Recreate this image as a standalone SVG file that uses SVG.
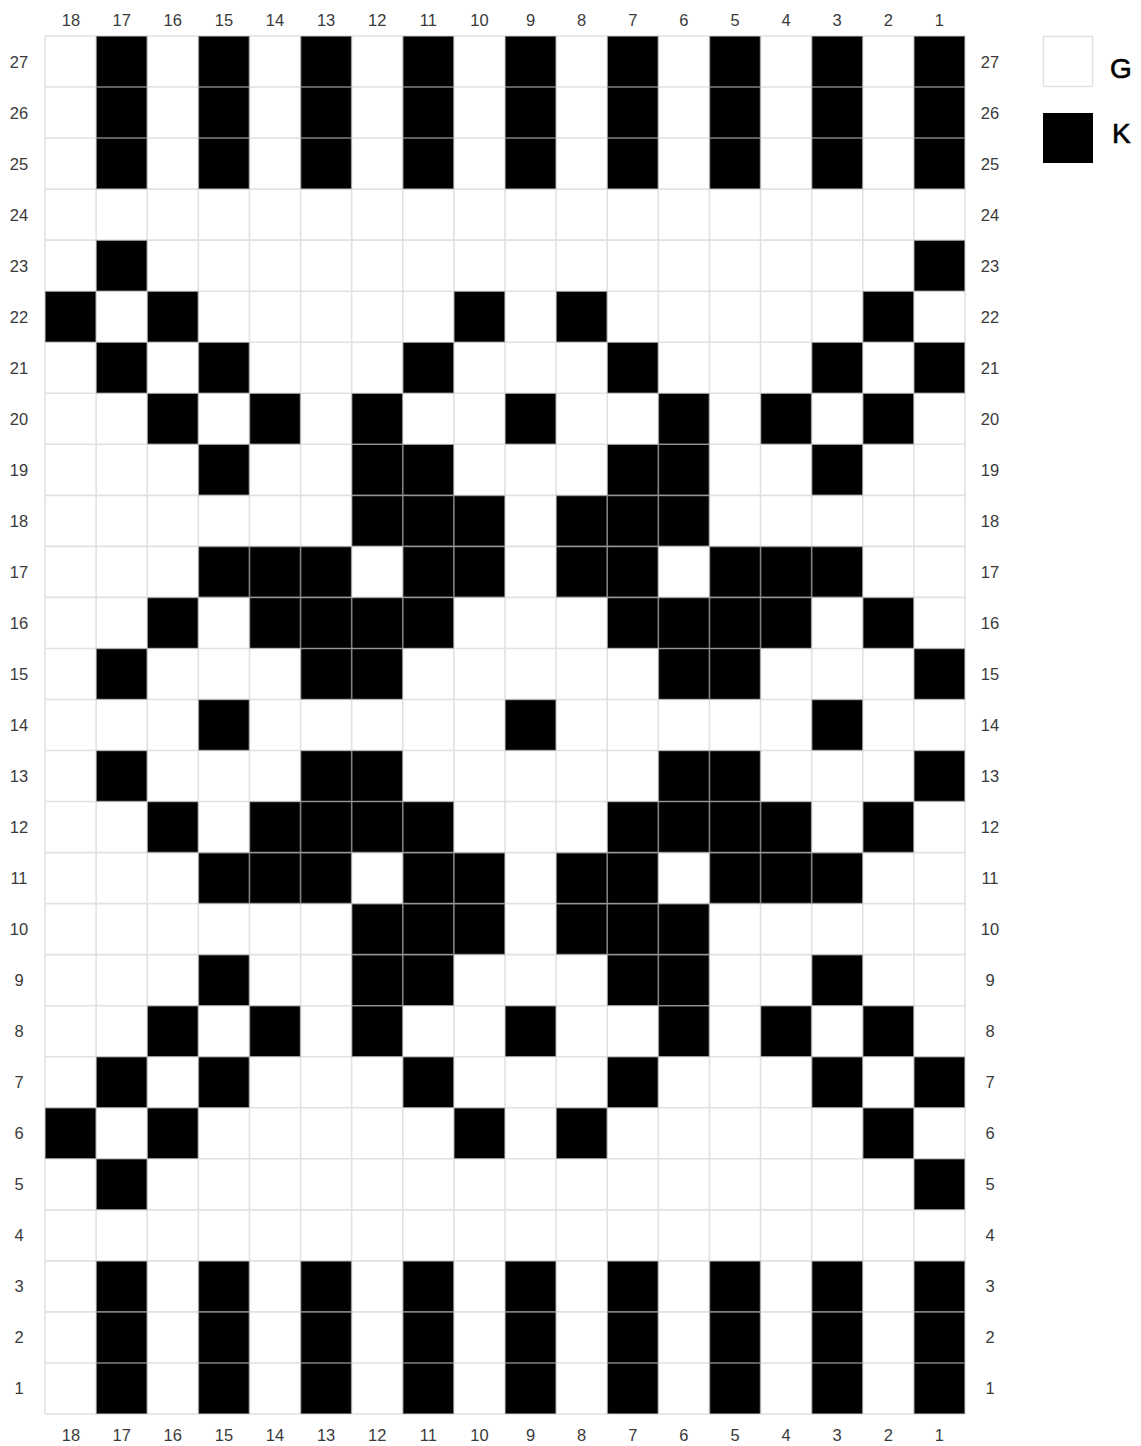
<svg xmlns="http://www.w3.org/2000/svg" width="1141" height="1446" viewBox="0 0 1141 1446">
<style>
.lbl{font-family:"Liberation Sans",Arial,sans-serif;font-size:16.5px;fill:#3a3a3a;text-anchor:middle}
.leg{font-family:"Liberation Sans",Arial,sans-serif;font-size:28px;fill:#000;stroke:#000;stroke-width:0.6}
.k{fill:#000}
.grid{fill:none;stroke:#cecece;stroke-opacity:0.62;stroke-width:1.6}
</style>
<rect width="1141" height="1446" fill="#fff"/>
<g id="chart" transform="translate(45,36) scale(51.111,51.037)">
<g id="cells" class="k">
<g id="bands-top"><rect x="1" y="0" width="1" height="3"/><rect x="3" y="0" width="1" height="3"/><rect x="5" y="0" width="1" height="3"/><rect x="7" y="0" width="1" height="3"/><rect x="9" y="0" width="1" height="3"/><rect x="11" y="0" width="1" height="3"/><rect x="13" y="0" width="1" height="3"/><rect x="15" y="0" width="1" height="3"/><rect x="17" y="0" width="1" height="3"/></g>
<g id="bands-bottom"><rect x="1" y="24" width="1" height="3"/><rect x="3" y="24" width="1" height="3"/><rect x="5" y="24" width="1" height="3"/><rect x="7" y="24" width="1" height="3"/><rect x="9" y="24" width="1" height="3"/><rect x="11" y="24" width="1" height="3"/><rect x="13" y="24" width="1" height="3"/><rect x="15" y="24" width="1" height="3"/><rect x="17" y="24" width="1" height="3"/></g>
<g id="row23"><rect x="1" y="4" width="1" height="1"/><rect x="17" y="4" width="1" height="1"/></g>
<g id="row22"><rect x="0" y="5" width="1" height="1"/><rect x="2" y="5" width="1" height="1"/><rect x="8" y="5" width="1" height="1"/><rect x="10" y="5" width="1" height="1"/><rect x="16" y="5" width="1" height="1"/></g>
<g id="row21"><rect x="1" y="6" width="1" height="1"/><rect x="3" y="6" width="1" height="1"/><rect x="7" y="6" width="1" height="1"/><rect x="11" y="6" width="1" height="1"/><rect x="15" y="6" width="1" height="1"/><rect x="17" y="6" width="1" height="1"/></g>
<g id="row20"><rect x="2" y="7" width="1" height="1"/><rect x="4" y="7" width="1" height="1"/><rect x="6" y="7" width="1" height="1"/><rect x="9" y="7" width="1" height="1"/><rect x="12" y="7" width="1" height="1"/><rect x="14" y="7" width="1" height="1"/><rect x="16" y="7" width="1" height="1"/></g>
<g id="row19"><rect x="3" y="8" width="1" height="1"/><rect x="6" y="8" width="2" height="1"/><rect x="11" y="8" width="2" height="1"/><rect x="15" y="8" width="1" height="1"/></g>
<g id="row18"><rect x="6" y="9" width="3" height="1"/><rect x="10" y="9" width="3" height="1"/></g>
<g id="row17"><rect x="3" y="10" width="3" height="1"/><rect x="7" y="10" width="2" height="1"/><rect x="10" y="10" width="2" height="1"/><rect x="13" y="10" width="3" height="1"/></g>
<g id="row16"><rect x="2" y="11" width="1" height="1"/><rect x="4" y="11" width="4" height="1"/><rect x="11" y="11" width="4" height="1"/><rect x="16" y="11" width="1" height="1"/></g>
<g id="row15"><rect x="1" y="12" width="1" height="1"/><rect x="5" y="12" width="2" height="1"/><rect x="12" y="12" width="2" height="1"/><rect x="17" y="12" width="1" height="1"/></g>
<g id="row14"><rect x="3" y="13" width="1" height="1"/><rect x="9" y="13" width="1" height="1"/><rect x="15" y="13" width="1" height="1"/></g>
<g id="row13"><rect x="1" y="14" width="1" height="1"/><rect x="5" y="14" width="2" height="1"/><rect x="12" y="14" width="2" height="1"/><rect x="17" y="14" width="1" height="1"/></g>
<g id="row12"><rect x="2" y="15" width="1" height="1"/><rect x="4" y="15" width="4" height="1"/><rect x="11" y="15" width="4" height="1"/><rect x="16" y="15" width="1" height="1"/></g>
<g id="row11"><rect x="3" y="16" width="3" height="1"/><rect x="7" y="16" width="2" height="1"/><rect x="10" y="16" width="2" height="1"/><rect x="13" y="16" width="3" height="1"/></g>
<g id="row10"><rect x="6" y="17" width="3" height="1"/><rect x="10" y="17" width="3" height="1"/></g>
<g id="row9"><rect x="3" y="18" width="1" height="1"/><rect x="6" y="18" width="2" height="1"/><rect x="11" y="18" width="2" height="1"/><rect x="15" y="18" width="1" height="1"/></g>
<g id="row8"><rect x="2" y="19" width="1" height="1"/><rect x="4" y="19" width="1" height="1"/><rect x="6" y="19" width="1" height="1"/><rect x="9" y="19" width="1" height="1"/><rect x="12" y="19" width="1" height="1"/><rect x="14" y="19" width="1" height="1"/><rect x="16" y="19" width="1" height="1"/></g>
<g id="row7"><rect x="1" y="20" width="1" height="1"/><rect x="3" y="20" width="1" height="1"/><rect x="7" y="20" width="1" height="1"/><rect x="11" y="20" width="1" height="1"/><rect x="15" y="20" width="1" height="1"/><rect x="17" y="20" width="1" height="1"/></g>
<g id="row6"><rect x="0" y="21" width="1" height="1"/><rect x="2" y="21" width="1" height="1"/><rect x="8" y="21" width="1" height="1"/><rect x="10" y="21" width="1" height="1"/><rect x="16" y="21" width="1" height="1"/></g>
<g id="row5"><rect x="1" y="22" width="1" height="1"/><rect x="17" y="22" width="1" height="1"/></g>
</g>
<path id="gridlines" class="grid" vector-effect="non-scaling-stroke" d="M0 0V27M1 0V27M2 0V27M3 0V27M4 0V27M5 0V27M6 0V27M7 0V27M8 0V27M9 0V27M10 0V27M11 0V27M12 0V27M13 0V27M14 0V27M15 0V27M16 0V27M17 0V27M18 0V27M0 0H18M0 1H18M0 2H18M0 3H18M0 4H18M0 5H18M0 6H18M0 7H18M0 8H18M0 9H18M0 10H18M0 11H18M0 12H18M0 13H18M0 14H18M0 15H18M0 16H18M0 17H18M0 18H18M0 19H18M0 20H18M0 21H18M0 22H18M0 23H18M0 24H18M0 25H18M0 26H18M0 27H18"/>
</g>
<g id="col-labels-top" class="lbl">
<text x="71" y="26">18</text><text x="121.7" y="26">17</text><text x="172.8" y="26">16</text><text x="223.9" y="26">15</text><text x="275" y="26">14</text><text x="326.1" y="26">13</text><text x="377.2" y="26">12</text><text x="428.3" y="26">11</text><text x="479.4" y="26">10</text><text x="530.6" y="26">9</text><text x="581.7" y="26">8</text><text x="632.8" y="26">7</text><text x="683.9" y="26">6</text><text x="735" y="26">5</text><text x="786.1" y="26">4</text><text x="837.2" y="26">3</text><text x="888.3" y="26">2</text><text x="939.4" y="26">1</text>
</g>
<g id="col-labels-bottom" class="lbl">
<text x="71" y="1441">18</text><text x="121.7" y="1441">17</text><text x="172.8" y="1441">16</text><text x="223.9" y="1441">15</text><text x="275" y="1441">14</text><text x="326.1" y="1441">13</text><text x="377.2" y="1441">12</text><text x="428.3" y="1441">11</text><text x="479.4" y="1441">10</text><text x="530.6" y="1441">9</text><text x="581.7" y="1441">8</text><text x="632.8" y="1441">7</text><text x="683.9" y="1441">6</text><text x="735" y="1441">5</text><text x="786.1" y="1441">4</text><text x="837.2" y="1441">3</text><text x="888.3" y="1441">2</text><text x="939.4" y="1441">1</text>
</g>
<g id="row-labels-left" class="lbl">
<text x="19" y="68">27</text><text x="19" y="119">26</text><text x="19" y="170">25</text><text x="19" y="221">24</text><text x="19" y="272">23</text><text x="19" y="323">22</text><text x="19" y="374">21</text><text x="19" y="425">20</text><text x="19" y="476">19</text><text x="19" y="527">18</text><text x="19" y="578">17</text><text x="19" y="629">16</text><text x="19" y="680">15</text><text x="19" y="731">14</text><text x="19" y="782">13</text><text x="19" y="833">12</text><text x="19" y="884">11</text><text x="19" y="935">10</text><text x="19" y="986">9</text><text x="19" y="1037">8</text><text x="19" y="1088">7</text><text x="19" y="1139">6</text><text x="19" y="1190">5</text><text x="19" y="1241">4</text><text x="19" y="1292">3</text><text x="19" y="1343">2</text><text x="19" y="1394">1</text>
</g>
<g id="row-labels-right" class="lbl">
<text x="990" y="68">27</text><text x="990" y="119">26</text><text x="990" y="170">25</text><text x="990" y="221">24</text><text x="990" y="272">23</text><text x="990" y="323">22</text><text x="990" y="374">21</text><text x="990" y="425">20</text><text x="990" y="476">19</text><text x="990" y="527">18</text><text x="990" y="578">17</text><text x="990" y="629">16</text><text x="990" y="680">15</text><text x="990" y="731">14</text><text x="990" y="782">13</text><text x="990" y="833">12</text><text x="990" y="884">11</text><text x="990" y="935">10</text><text x="990" y="986">9</text><text x="990" y="1037">8</text><text x="990" y="1088">7</text><text x="990" y="1139">6</text><text x="990" y="1190">5</text><text x="990" y="1241">4</text><text x="990" y="1292">3</text><text x="990" y="1343">2</text><text x="990" y="1394">1</text>
</g>
<g id="legend-G">
<rect x="1043.5" y="36.5" width="49" height="50" fill="#fff" stroke="#e2e2e2" stroke-width="1.5"/>
<text class="leg" x="1110" y="78">G</text>
</g>
<g id="legend-K">
<rect x="1043" y="113" width="50" height="50" fill="#000"/>
<text class="leg" x="1112" y="143">K</text>
</g>
</svg>
